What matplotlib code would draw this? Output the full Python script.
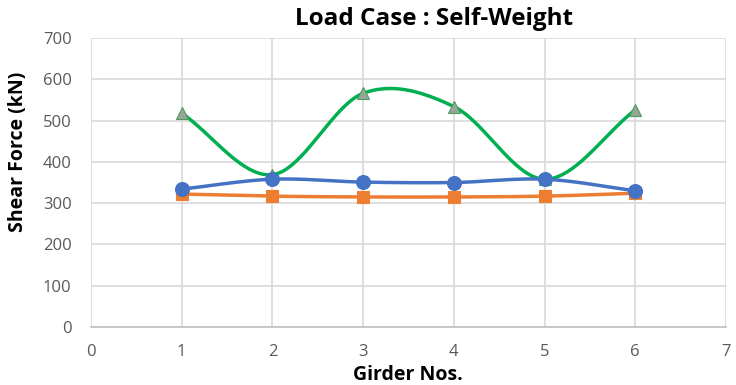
import numpy as np
import matplotlib
matplotlib.use('Agg')
import matplotlib.pyplot as plt

girders = [1, 2, 3, 4, 5, 6]
blue_vals = [334, 358, 351, 350, 358, 330]
orange_vals = [322, 317, 315, 315, 317, 324]
green_vals = [518, 369, 566, 534, 358, 526]


def smooth(x, y, n=40):
    # Catmull-Rom curve through the points, like Excel's smoothed line
    x = np.asarray(x, float)
    y = np.asarray(y, float)
    px = np.concatenate([[2 * x[0] - x[1]], x, [2 * x[-1] - x[-2]]])
    py = np.concatenate([[2 * y[0] - y[1]], y, [2 * y[-1] - y[-2]]])
    xs, ys = [], []
    t = np.linspace(0, 1, n)
    for i in range(1, len(px) - 2):
        for p, out in ((px, xs), (py, ys)):
            p0, p1, p2, p3 = p[i - 1], p[i], p[i + 1], p[i + 2]
            out.extend(0.5 * (2 * p1 + (-p0 + p2) * t
                              + (2 * p0 - 5 * p1 + 4 * p2 - p3) * t ** 2
                              + (-p0 + 3 * p1 - 3 * p2 + p3) * t ** 3))
    return xs, ys


plt.rcParams['font.family'] = ['Open Sans', 'DejaVu Sans']

fig = plt.figure(figsize=(7.36, 3.85), dpi=100)
ax = fig.add_axes([0.1236, 0.1506, 0.8628, 0.7507])

series = [
    (orange_vals, '#ED7D31', 's', 8, '#ED7D31', '#ED7D31', 2),
    (green_vals, '#00B050', '^', 9, '#98A898', '#4E9A5E', 3),
    (blue_vals, '#4472C4', 'o', 10, '#4472C4', '#4472C4', 4),
]
for vals, col, mk, ms, fc, ec, z in series:
    sx, sy = smooth(girders, vals)
    ax.plot(sx, sy, color=col, lw=2.5, zorder=z, solid_capstyle='round')
    ax.plot(girders, vals, linestyle='none', marker=mk, ms=ms,
            markerfacecolor=fc, markeredgecolor=ec, markeredgewidth=0.8,
            zorder=z + 0.5)

ax.set_xlim(0, 7)
ax.set_ylim(0, 700)
ax.set_xticks(range(0, 8))
ax.set_yticks(range(0, 701, 100))
ax.grid(True, color='#D9D9D9', lw=1.2)
ax.set_axisbelow(True)
for s in ['top', 'right', 'left']:
    ax.spines[s].set_visible(False)
ax.spines['bottom'].set_color('#BFBFBF')
ax.spines['bottom'].set_linewidth(1.2)
ax.tick_params(length=0, labelsize=12, labelcolor='#595959', pad=12)
ax.tick_params(axis='y', pad=14)

fig.text(434 / 736, 1 - 19 / 385, 'Load Case : Self-Weight', fontsize=17.5,
         fontweight='bold', ha='center', va='center')
fig.text(408 / 736, 1 - 375 / 385, 'Girder Nos.', fontsize=14,
         fontweight='bold', ha='center', va='center')
fig.text(18 / 736, 1 - 152 / 385, 'Shear Force (kN)', fontsize=14,
         fontweight='bold', ha='center', va='center', rotation=90)

fig.savefig('out.png', dpi=100)
